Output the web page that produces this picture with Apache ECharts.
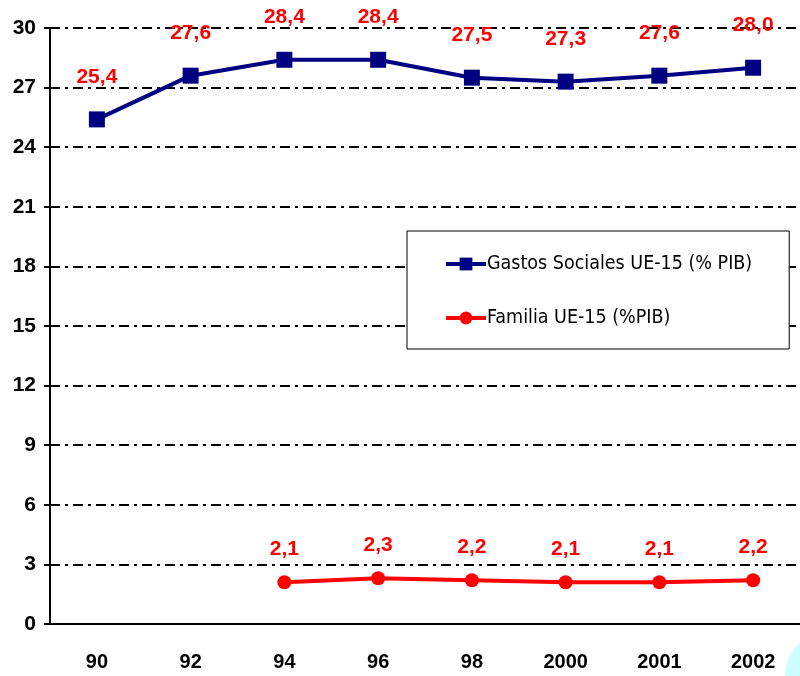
<!DOCTYPE html>
<html>
<head>
<meta charset="utf-8">
<script src="https://cdn.jsdelivr.net/npm/echarts@6/dist/echarts.min.js"></script>
<style>
html,body{margin:0;padding:0;background:#fff;}
#chart{width:800px;height:676px;}
</style>
</head>
<body>
<div id="chart"></div>
<script>
// datos
var years = ['90', '92', '94', '96', '98', '2000', '2001', '2002'];
var gastosSociales = [25.4, 27.6, 28.4, 28.4, 27.5, 27.3, 27.6, 28.0];
var familia = [null, null, 2.1, 2.3, 2.2, 2.1, 2.1, 2.2];
var yTicks = [0, 3, 6, 9, 12, 15, 18, 21, 24, 27, 30];

var chart = echarts.init(document.getElementById('chart'));

function fmt(p) {
    return p.value == null ? '' : p.value.toFixed(1).replace('.', ',');
}

var labelStyle = {
    show: true,
    position: 'top',
    color: '#ff0000',
    fontFamily: 'Liberation Sans',
    fontWeight: 'bold',
    fontSize: 21,
    formatter: fmt
};

option = {
    animation: false,
    grid: {
        left: 50,
        right: 0,
        top: 28,
        bottom: 52
    },
    legend: {
        orient: 'vertical',
        left: 407,
        top: 231,
        padding: [23, 37, 21, 37],
        itemGap: 34,
        itemWidth: 40,
        itemHeight: 16,
        backgroundColor: '#fff',
        borderColor: '#000',
        borderWidth: 1,
        lineStyle: { width: 4 },
        textStyle: {
            fontFamily: 'DejaVu Sans Condensed',
            fontSize: 19.5,
            color: '#000',
            padding: [0, 0, 0, -4]
        },
        data: ['Gastos Sociales UE-15 (% PIB)', 'Familia UE-15 (%PIB)']
    },
    xAxis: {
        type: 'category',
        data: years,
        boundaryGap: true,
        axisLine: { lineStyle: { color: '#000', width: 2 } },
        axisTick: { show: false },
        axisLabel: {
            margin: 28,
            color: '#000',
            fontFamily: 'Liberation Sans',
            fontWeight: 'bold',
            fontSize: 20
        }
    },
    yAxis: {
        type: 'value',
        min: 0,
        max: 30,
        interval: 3,
        axisLine: { show: true, lineStyle: { color: '#000', width: 2 } },
        axisTick: { show: true, length: 6, lineStyle: { color: '#000', width: 2 } },
        axisLabel: {
            margin: 14,
            color: '#000',
            fontFamily: 'Liberation Sans',
            fontWeight: 'bold',
            fontSize: 21,
            formatter: function (v) { return yTicks.indexOf(v) >= 0 ? String(v) : ''; }
        },
        splitLine: {
            show: true,
            lineStyle: { color: '#000', width: 2, type: [10, 5, 3, 5] }
        }
    },
    series: [
        {
            name: 'Gastos Sociales UE-15 (% PIB)',
            type: 'line',
            data: gastosSociales,
            symbol: 'rect',
            symbolSize: 16,
            color: '#000080',
            lineStyle: { width: 4, color: '#000080' },
            itemStyle: { color: '#000080' },
            label: Object.assign({}, labelStyle, { distance: 24 })
        },
        {
            name: 'Familia UE-15 (%PIB)',
            type: 'line',
            data: familia,
            symbol: 'circle',
            symbolSize: 14,
            color: '#ff0000',
            lineStyle: { width: 4, color: '#ff0000' },
            itemStyle: { color: '#ff0000' },
            label: Object.assign({}, labelStyle, { distance: 16 })
        }
    ],
    graphic: [
        {
            type: 'circle',
            shape: { cx: 830, cy: 676, r: 45 },
            style: { fill: '#ccffff' },
            z: -1
        }
    ]
};
chart.setOption(option);
</script>
</body>
</html>
